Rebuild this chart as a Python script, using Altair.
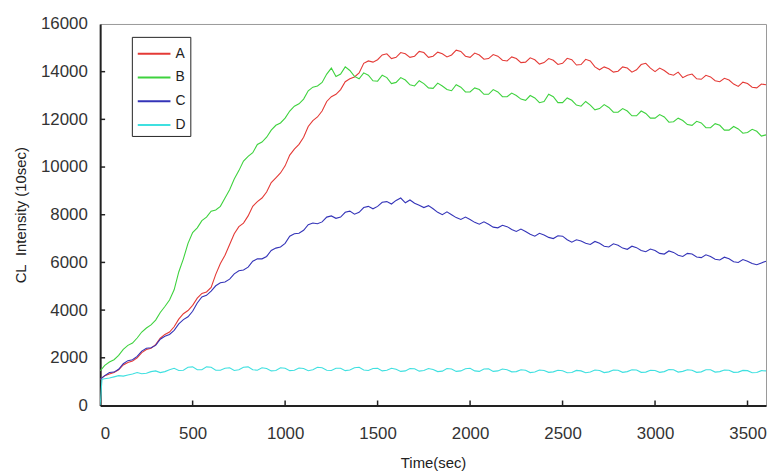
import altair as alt
import pandas as pd

times = [0, 25, 50, 75, 100, 125, 150, 175,
         200, 225, 250, 275, 300, 325, 350, 375,
         400, 425, 450, 475, 500, 525, 550, 575,
         600, 625, 650, 675, 700, 725, 750, 775,
         800, 825, 850, 875, 900, 925, 950, 975,
         1000, 1025, 1050, 1075, 1100, 1125, 1150, 1175,
         1200, 1225, 1250, 1275, 1300, 1325, 1350, 1375,
         1400, 1425, 1450, 1475, 1500, 1525, 1550, 1575,
         1600, 1625, 1650, 1675, 1700, 1725, 1750, 1775,
         1800, 1825, 1850, 1875, 1900, 1925, 1950, 1975,
         2000, 2025, 2050, 2075, 2100, 2125, 2150, 2175,
         2200, 2225, 2250, 2275, 2300, 2325, 2350, 2375,
         2400, 2425, 2450, 2475, 2500, 2525, 2550, 2575,
         2600, 2625, 2650, 2675, 2700, 2725, 2750, 2775,
         2800, 2825, 2850, 2875, 2900, 2925, 2950, 2975,
         3000, 3025, 3050, 3075, 3100, 3125, 3150, 3175,
         3200, 3225, 3250, 3275, 3300, 3325, 3350, 3375,
         3400, 3425, 3450, 3475, 3500, 3525, 3550, 3575,
         3600]

series_A = [1100, 1250, 1320, 1380, 1500, 1700, 1800, 1860,
            2000, 2220, 2350, 2400, 2550, 2820, 2980, 3080,
            3300, 3620, 3850, 3980, 4200, 4500, 4700, 4760,
            4950, 5500, 5950, 6300, 6750, 7200, 7500, 7650,
            7950, 8350, 8550, 8700, 8950, 9350, 9550, 9750,
            10050, 10500, 10750, 10950, 11250, 11700, 11950, 12100,
            12350, 12750, 12950, 13050, 13250, 13580, 13700, 13780,
            13950, 14350, 14450, 14400, 14500, 14700, 14750, 14550,
            14600, 14800, 14750, 14600, 14650, 14850, 14800, 14600,
            14650, 14820, 14750, 14620, 14700, 14900, 14850, 14650,
            14600, 14780, 14700, 14520, 14550, 14720, 14650, 14480,
            14450, 14620, 14550, 14380, 14400, 14580, 14500, 14320,
            14380, 14550, 14480, 14300, 14350, 14560, 14500, 14280,
            14300, 14520, 14450, 14200, 14080, 14200, 14120, 13980,
            14020, 14200, 14150, 13980, 14080, 14300, 14350, 14150,
            14000, 14150, 14050, 13900, 13850, 13980, 13750, 13850,
            13900, 13700, 13680, 13850, 13780, 13620, 13580, 13720,
            13650, 13480, 13380, 13560, 13500, 13350, 13320, 13480,
            13450]

series_B = [1450, 1680, 1820, 1920, 2100, 2350, 2520, 2620,
            2830, 3080, 3250, 3380, 3580, 3900, 4150, 4420,
            4850, 5600, 6150, 6800, 7250, 7450, 7750, 7900,
            8150, 8200, 8350, 8700, 9050, 9500, 9850, 10250,
            10450, 10600, 10950, 11050, 11250, 11550, 11750, 11850,
            12050, 12350, 12550, 12650, 12850, 13200, 13350, 13400,
            13550, 13900, 14150, 13800, 13900, 14200, 14050, 13800,
            13700, 13950, 13850, 13620, 13600, 13850, 13750, 13500,
            13550, 13750, 13650, 13450, 13400, 13620, 13500, 13320,
            13300, 13520, 13400, 13250, 13200, 13450, 13350, 13150,
            13150, 13320, 13250, 13050, 13050, 13250, 13150, 12950,
            12950, 13100, 13000, 12850, 12800, 13000, 12900, 12700,
            12750, 13050, 12950, 12700, 12700, 12900, 12800, 12600,
            12550, 12750, 12600, 12400, 12450, 12620, 12500, 12300,
            12300, 12450, 12350, 12150, 12150, 12350, 12250, 12050,
            12050, 12200, 12100, 11880, 11900, 12050, 11950, 11780,
            11750, 11920, 11850, 11650, 11650, 11820, 11750, 11550,
            11550, 11700, 11600, 11420, 11450, 11580, 11500, 11300,
            11350]

series_C = [1100, 1250, 1380, 1400, 1520, 1750, 1880, 1920,
            2060, 2280, 2400, 2420, 2520, 2780, 2900, 2980,
            3150, 3420, 3600, 3720, 3950, 4300, 4550, 4620,
            4800, 5020, 5150, 5180, 5300, 5520, 5650, 5680,
            5800, 6050, 6150, 6150, 6250, 6500, 6600, 6650,
            6800, 7100, 7200, 7220, 7350, 7580, 7650, 7620,
            7700, 7900, 7950, 7850, 7900, 8100, 8150, 8020,
            8100, 8300, 8350, 8250, 8350, 8520, 8550, 8450,
            8600, 8700, 8500, 8620, 8480, 8400, 8300, 8380,
            8250, 8100, 8000, 8120, 8000, 7880, 7800, 7900,
            7800, 7680, 7600, 7700, 7600, 7480, 7450, 7560,
            7500, 7380, 7300, 7400, 7300, 7180, 7100, 7220,
            7150, 7050, 7000, 7120, 7100, 6950, 6850, 6950,
            6900, 6800, 6750, 6880, 6800, 6680, 6650, 6780,
            6720, 6600, 6550, 6680, 6620, 6500, 6450, 6560,
            6500, 6380, 6350, 6480, 6420, 6300, 6250, 6380,
            6350, 6230, 6200, 6320, 6250, 6130, 6100, 6220,
            6150, 6030, 6000, 6120, 6050, 5950, 5900, 5980,
            6050]

times_D = [0, 10] + times[1:]
series_D = [0, 1100, 1120, 1150, 1200, 1250, 1230, 1280, 1320,
            1380, 1330, 1350, 1420, 1450, 1380, 1420, 1500,
            1560, 1470, 1480, 1600, 1620, 1500, 1500, 1620,
            1600, 1480, 1480, 1560, 1580, 1470, 1500, 1600,
            1620, 1500, 1480, 1580, 1550, 1450, 1470, 1580,
            1560, 1460, 1480, 1570, 1550, 1460, 1500, 1600,
            1580, 1480, 1470, 1560, 1560, 1460, 1490, 1580,
            1600, 1490, 1470, 1550, 1560, 1450, 1480, 1560,
            1520, 1430, 1450, 1550, 1540, 1440, 1470, 1550,
            1510, 1420, 1440, 1550, 1530, 1430, 1450, 1540,
            1560, 1450, 1430, 1530, 1540, 1430, 1450, 1530,
            1500, 1410, 1420, 1500, 1480, 1380, 1400, 1490,
            1470, 1390, 1410, 1480, 1460, 1370, 1380, 1470,
            1450, 1370, 1400, 1490, 1470, 1380, 1410, 1490,
            1480, 1390, 1420, 1500, 1490, 1390, 1400, 1480,
            1470, 1390, 1420, 1510, 1500, 1400, 1430, 1500,
            1480, 1390, 1410, 1500, 1500, 1400, 1420, 1490,
            1480, 1390, 1400, 1470, 1460, 1370, 1380, 1460,
            1450]

x_ticks = [500, 1000, 1500, 2000, 2500, 3000, 3500]
y_ticks = [2000, 4000, 6000, 8000, 10000, 12000, 14000]
x_labels = [0, 500, 1000, 1500, 2000, 2500, 3000, 3500]
y_labels = [0, 2000, 4000, 6000, 8000, 10000, 12000, 14000, 16000]

rows = []
for name, ts, vs in [("A", times, series_A), ("B", times, series_B),
                     ("C", times, series_C), ("D", times_D, series_D)]:
    assert len(ts) == len(vs), (name, len(ts), len(vs))
    for t, v in zip(ts, vs):
        rows.append({"t": t, "v": v, "s": name})
df = pd.DataFrame(rows)

W, H = 672, 385
FONT = "Liberation Sans"

xscale = alt.Scale(domain=[0, 3600], nice=False, zero=False)
yscale = alt.Scale(domain=[0, 16000], nice=False)

lines = alt.Chart(df).mark_line(strokeWidth=1.1, clip=True).encode(
    x=alt.X("t:Q", scale=xscale, title="Time(sec)",
            axis=alt.Axis(values=x_labels, format="d", ticks=False, labelPadding=20,
                          titlePadding=15, grid=False)),
    y=alt.Y("v:Q", scale=yscale, title="CL\u00a0 Intensity (10sec)",
            axis=alt.Axis(values=y_labels, format="d", ticks=False, labelPadding=13,
                          titlePadding=12, grid=False)),
    color=alt.Color("s:N", title=None,
                    scale=alt.Scale(domain=["A", "B", "C", "D"],
                                    range=["#e43a36", "#3ed23e", "#3434b8", "#3fe0e0"]),
                    legend=alt.Legend(orient="none", legendX=32, legendY=13,
                                      symbolType="M-0.92,0H1.83", symbolSize=576,
                                      symbolStrokeWidth=2, labelOffset=14,
                                      padding=4, rowPadding=4,
                                      strokeColor="#222222", fillColor="white",
                                      labelFontSize=14, labelFont=FONT,
                                      labelColor="#222222")),
    order=alt.Order("t:Q"),
)

xt = pd.DataFrame({"xt": x_ticks})
yt = pd.DataFrame({"yt": y_ticks})

xtick_layer = alt.Chart(xt).mark_rule(color="#222222", strokeWidth=1.5).encode(
    x=alt.X("xt:Q", scale=xscale),
    y=alt.value(H), y2=alt.value(H - 5),
)
ytick_layer = alt.Chart(yt).mark_rule(color="#222222", strokeWidth=1.5).encode(
    y=alt.Y("yt:Q", scale=yscale),
    x=alt.value(0), x2=alt.value(5),
)

chart = alt.layer(lines, xtick_layer, ytick_layer).properties(
    width=W, height=H,
    autosize=alt.AutoSizeParams(type="none"),
    padding={"left": 93, "top": 14, "right": 2, "bottom": 64},
).configure_view(
    stroke="#999999", strokeWidth=1
).configure_axis(
    domainColor="#222222", domainWidth=2,
    labelFont=FONT, labelFontSize=17, labelColor="#333333",
    titleFont=FONT, titleFontSize=15, titleFontWeight="normal", titleColor="#222222",
)

chart.save("out.html", embed_options={"renderer": "svg", "actions": False})
